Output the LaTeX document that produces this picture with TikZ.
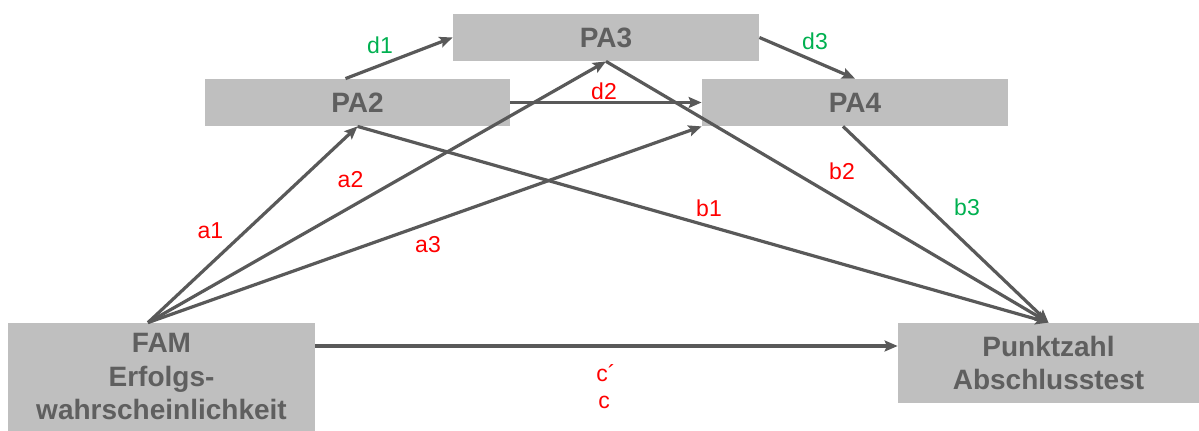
\documentclass[tikz,border=0pt]{standalone}
\usepackage{fontspec}
\setmainfont{Liberation Sans}
\usetikzlibrary{calc,arrows.meta,positioning}
\definecolor{boxgray}{HTML}{BFBFBF}
\definecolor{txtgray}{HTML}{5F5F5F}
\definecolor{linegray}{HTML}{595959}
\definecolor{lblred}{HTML}{FF0000}
\definecolor{lblgreen}{HTML}{00B050}

\begin{document}
\begin{tikzpicture}[
    x=0.5pt, y=-0.5pt,
    >={Stealth[length=6.5pt, width=5.5pt, inset=1.2pt]},
    box/.style={fill=boxgray, draw=none, inner sep=0pt, align=center, text=txtgray,
                font=\fontsize{14}{16.75}\selectfont\bfseries},
    conn/.style={->, draw=linegray, line width=1.6pt},
    lbl/.style={inner sep=0pt, font=\fontsize{11.5}{13}\selectfont},
    lblr/.style={lbl, text=lblred},
    lblg/.style={lbl, text=lblgreen}
  ]
  \useasboundingbox (0,0) rectangle (1199,431);

  % Mediatoren (oben)
  \node[box, minimum width=153pt, minimum height=23.5pt] (pa3) at (606, 37.5) {PA3};
  \node[box, minimum width=152.5pt, minimum height=23.5pt] (pa2) at (357.5, 102.5) {PA2};
  \node[box, minimum width=153pt, minimum height=23.5pt] (pa4) at (855, 102.5) {PA4};

  % Praediktor und Kriterium (unten)
  \node[box, minimum width=153.5pt, minimum height=54pt] (fam) at (161.5, 377) {FAM\\Erfolgs-\\wahrscheinlichkeit};
  \node[box, minimum width=150.5pt, minimum height=40pt] (punkt) at (1048.5, 363) {Punktzahl\\Abschlusstest};

  % Ankerpunkte
  \coordinate (famtop) at ($(fam.north)+(-13.5,0)$);
  \coordinate (pa2top) at ($(pa2.north)+(-12,0)$);
  \coordinate (pa4bot) at ($(pa4.south)+(-12,0)$);
  \coordinate (famout) at ($(fam.east)+(0,-31)$);
  \coordinate (punktin) at ($(punkt.west)+(0,-17)$);

  % a-Pfade
  \draw[conn] (famtop) -- (pa2.south);
  \draw[conn] (famtop) -- (pa3.south);
  \draw[conn] (famtop) -- (pa4.south west);

  % b-Pfade
  \draw[conn] (pa2.south) -- (punkt.north);
  \draw[conn] (pa3.south) -- (punkt.north);
  \draw[conn] (pa4bot) -- (punkt.north);

  % d-Pfade
  \draw[conn] (pa2top) -- (pa3.west);
  \draw[conn] (pa2.east) -- (pa4.west);
  \draw[conn] (pa3.east) -- (pa4.north);

  % direkter Pfad
  \draw[conn] (famout) -- (punktin);

  % Beschriftungen
  \node[lblg] (ld1) at (380, 45) {d1};
  \node[lblr] (ld2) at (604, 91) {d2};
  \node[lblg] (ld3) at (815, 41) {d3};
  \node[lblr] (la1) at (210.5, 231) {a1};
  \node[lblr] (la2) at (350.5, 180) {a2};
  \node[lblr] (la3) at (428, 245) {a3};
  \node[lblr] (lb1) at (709, 208) {b1};
  \node[lblr] (lb2) at (842, 171) {b2};
  \node[lblg] (lb3) at (967, 207) {b3};
  \node[lblr] (lcs) at (606, 373) {c´};
  \node[lblr] (lc) at (604, 402) {c};

\end{tikzpicture}
\end{document}
